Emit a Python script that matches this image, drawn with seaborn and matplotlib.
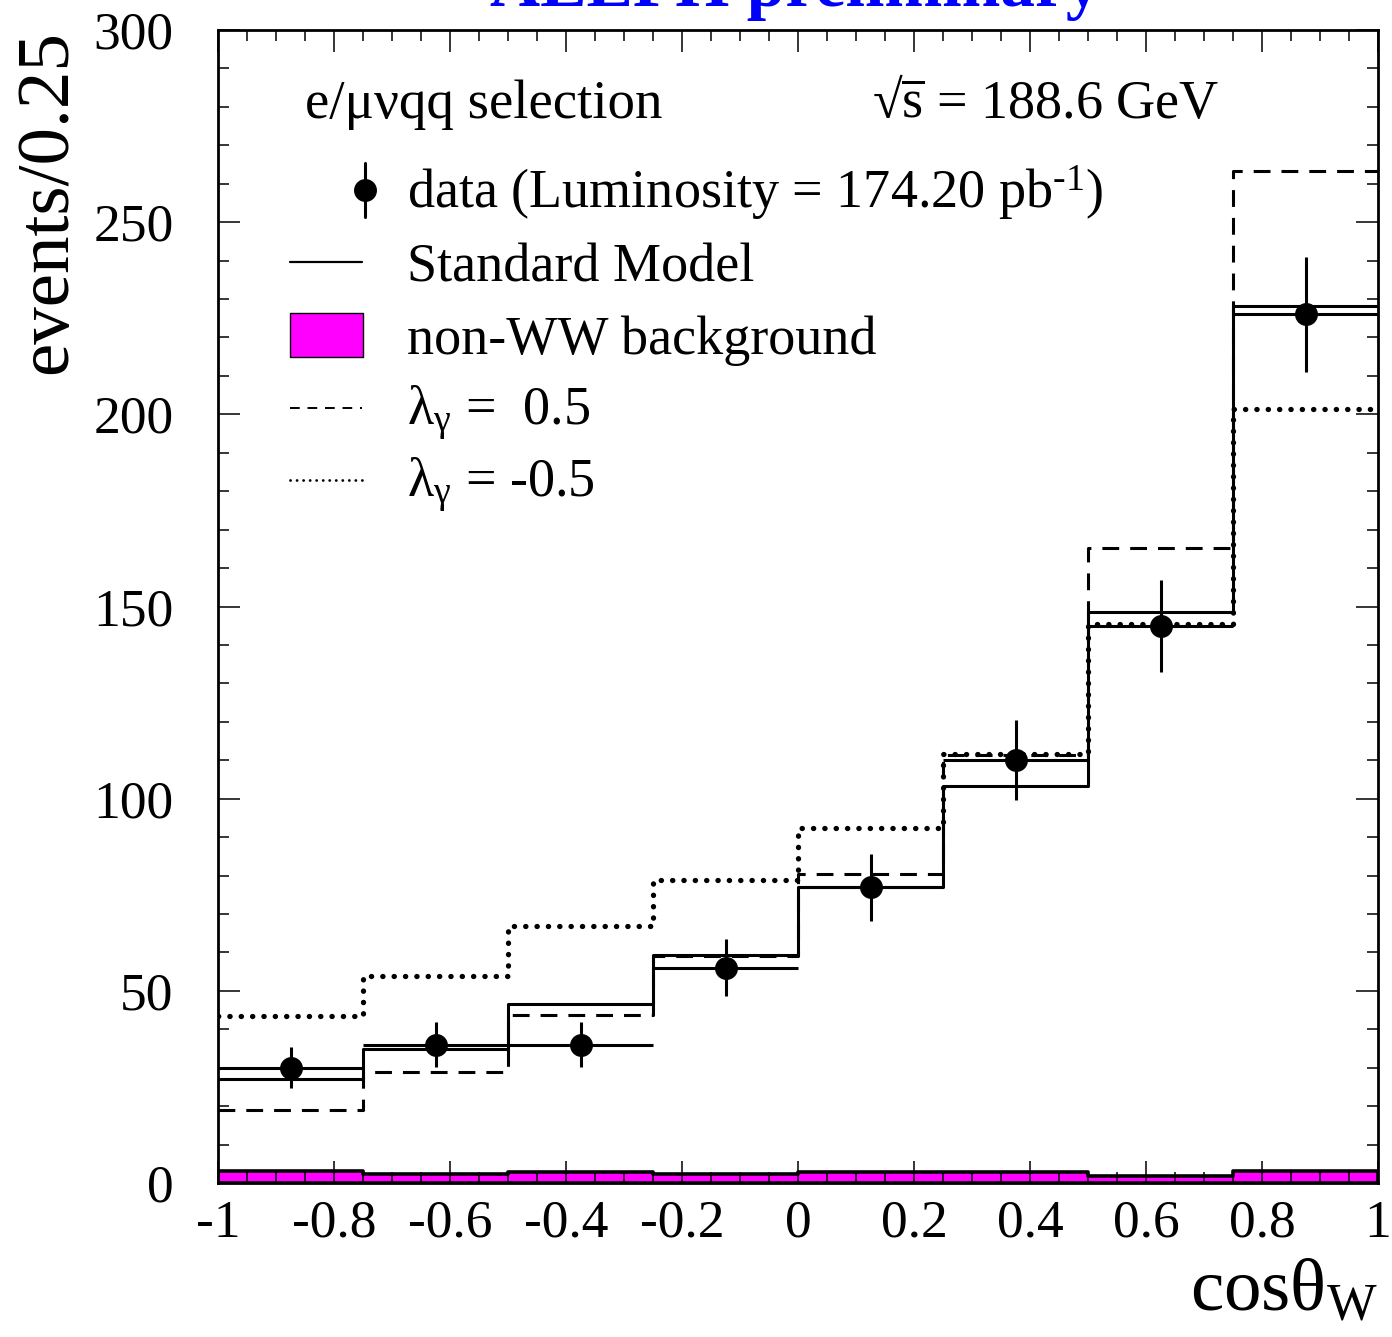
import numpy as np
import pandas as pd
import matplotlib
matplotlib.use("Agg")
import matplotlib.pyplot as plt
from matplotlib.patches import Rectangle
from matplotlib.ticker import MultipleLocator
import seaborn as sns

# ---------------- data ----------------
bin_edges = [-1.0, -0.75, -0.5, -0.25, 0.0, 0.25, 0.5, 0.75, 1.0]
bin_centers = [-0.875, -0.625, -0.375, -0.125, 0.125, 0.375, 0.625, 0.875]
data_counts = [30, 36, 36, 56, 77, 110, 145, 226]
data_errors = [5.4, 5.9, 5.9, 7.4, 8.7, 10.4, 12.0, 14.9]
sm_values = [27.1, 34.8, 46.6, 59.3, 77.1, 103.3, 148.6, 228.2]
background_values = [3.2, 2.3, 2.9, 2.3, 2.9, 2.9, 1.8, 3.1]
lambda_plus_values = [19.0, 29.0, 43.7, 59.0, 80.4, 111.3, 165.2, 263.2]
lambda_minus_values = [43.4, 53.9, 66.9, 78.8, 92.3, 111.7, 145.4, 201.4]

x_tick_values = [-1, -0.8, -0.6, -0.4, -0.2, 0, 0.2, 0.4, 0.6, 0.8, 1]
x_tick_labels = ["-1", "-0.8", "-0.6", "-0.4", "-0.2", "0", "0.2", "0.4", "0.6", "0.8", "1"]
y_tick_values = [0, 50, 100, 150, 200, 250, 300]
y_tick_labels = ["0", "50", "100", "150", "200", "250", "300"]

legend_labels = [
    r"data (Luminosity = 174.20 pb$^{\text{-1}}$)",
    "Standard Model",
    "non-WW background",
    r"$\mathrm{λ}_{\mathrm{γ}}$ =  0.5",
    r"$\mathrm{λ}_{\mathrm{γ}}$ = -0.5",
]

df = pd.DataFrame({
    "center": bin_centers,
    "sm": sm_values,
    "bkg": background_values,
    "lp": lambda_plus_values,
    "lm": lambda_minus_values,
})

# ---------------- style ----------------
sns.set_style("ticks")
plt.rcParams["font.family"] = ["Liberation Serif", "DejaVu Serif"]
plt.rcParams["mathtext.fontset"] = "custom"
plt.rcParams["mathtext.rm"] = "Liberation Serif"
plt.rcParams["mathtext.it"] = "Liberation Serif:italic"
plt.rcParams["mathtext.bf"] = "Liberation Serif:bold"
plt.rcParams["axes.unicode_minus"] = False
for key in ["text.color", "axes.labelcolor", "xtick.color", "ytick.color", "axes.edgecolor"]:
    plt.rcParams[key] = "black"

W, H = 1392, 1337
fig = plt.figure(figsize=(W / 100, H / 100), dpi=100)
L, R, T, B = 218, 1378, 30, 1183
ax = fig.add_axes([L / W, 1 - B / H, (R - L) / W, (B - T) / H])

LW = 2.2
# background (filled)
sns.histplot(data=df, x="center", weights="bkg", bins=bin_edges, element="step",
             fill=True, color="#ff00ff", alpha=1, edgecolor="black",
             linewidth=2.6, ax=ax)
# Standard Model
sns.histplot(data=df, x="center", weights="sm", bins=bin_edges, element="step",
             fill=False, color="black", linewidth=LW, ax=ax)
# lambda = +0.5 (dashed)
sns.histplot(data=df, x="center", weights="lp", bins=bin_edges, element="step",
             fill=False, color="black", linewidth=LW,
             linestyle=(0, (5.5, 3.6)), ax=ax)
# lambda = -0.5 (dotted)
sns.histplot(data=df, x="center", weights="lm", bins=bin_edges, element="step",
             fill=False, color="black", linewidth=3.8,
             linestyle=(0, (0.05, 2.1)), dash_capstyle="round", ax=ax)

# data points
ax.errorbar(bin_centers, data_counts, yerr=data_errors, xerr=0.125, fmt="o",
            color="black", markersize=15.5, elinewidth=LW, capsize=0, zorder=5)

ax.set_xlim(-1, 1)
ax.set_ylim(0, 300)
ax.set_xticks(x_tick_values, labels=x_tick_labels)
ax.set_yticks(y_tick_values, labels=y_tick_labels)
ax.xaxis.set_minor_locator(MultipleLocator(0.05))
ax.yaxis.set_minor_locator(MultipleLocator(10))
ax.set_axisbelow(False)
ax.tick_params(which="both", direction="in", top=True, right=True,
               width=1.1, colors="black", labelsize=38.5)
ax.tick_params(which="major", length=15.8)
ax.tick_params(which="minor", length=7.9)
ax.tick_params(axis="x", which="major", pad=12)
ax.tick_params(axis="y", which="major", pad=32)
for s in ax.spines.values():
    s.set_linewidth(2.0)
    s.set_color("black")
    s.set_zorder(6)

# axis labels
ax.set_xlabel(r"cos$\mathrm{θ}_{\mathrm{W}}$", fontsize=54)
ax.xaxis.set_label_coords(1.0, (B - 1310) / (B - T))
ax.xaxis.label.set_ha("right")
ax.xaxis.label.set_va("baseline")
ax.set_ylabel("events/0.25", fontsize=54, loc="top")
ax.yaxis.set_label_coords((82 - L) / (R - L), 1.0)

# title (cut at top)
fig.text(795 / W, 1 - 6 / H, "ALEPH preliminary", color="#0000ff",
         fontsize=50, fontweight="bold", ha="center", va="baseline")

# header texts
def ay(py):
    return (B - py) / (B - T)

def axx(px):
    return (px - L) / (R - L)

ax.text(axx(305), ay(118), "e/μνqq selection", fontsize=39.5, transform=ax.transAxes,
        ha="left", va="baseline")
ax.text(axx(872), ay(118), r"√$\overline{\mathrm{s}}$ = 188.6 GeV", fontsize=39,
        transform=ax.transAxes, ha="left", va="baseline")

# legend (ROOT style, drawn manually)
tx = axx(407)
x0, x1 = axx(290), axx(362)
baselines = [208, 281, 354, 425, 497]
for lab, bl in zip(legend_labels, baselines):
    ax.text(tx, ay(bl), lab, fontsize=39, transform=ax.transAxes,
            ha="left", va="baseline")
# data symbol
ax.plot([axx(365), axx(365)], [ay(163), ay(217)], color="black", lw=LW,
        transform=ax.transAxes, clip_on=False)
ax.plot([axx(365)], [ay(190)], "o", color="black", markersize=15.5,
        transform=ax.transAxes, clip_on=False)
# SM line
ax.plot([x0, x1], [ay(262), ay(262)], color="black", lw=1.6, transform=ax.transAxes)
# background box
ax.add_patch(Rectangle((axx(290), ay(357)), axx(363) - axx(290), ay(313) - ay(357),
                       facecolor="#ff00ff", edgecolor="black", lw=1.0,
                       transform=ax.transAxes))
# dashed
ax.plot([x0, x1], [ay(408), ay(408)], color="black", lw=1.4,
        linestyle=(0, (5, 4)), transform=ax.transAxes)
# dotted
ax.plot([x0, x1], [ay(480), ay(480)], color="black", lw=2.0,
        linestyle=(0, (0.05, 2.3)), dash_capstyle="round", transform=ax.transAxes)

fig.savefig("out.png", dpi=100)
